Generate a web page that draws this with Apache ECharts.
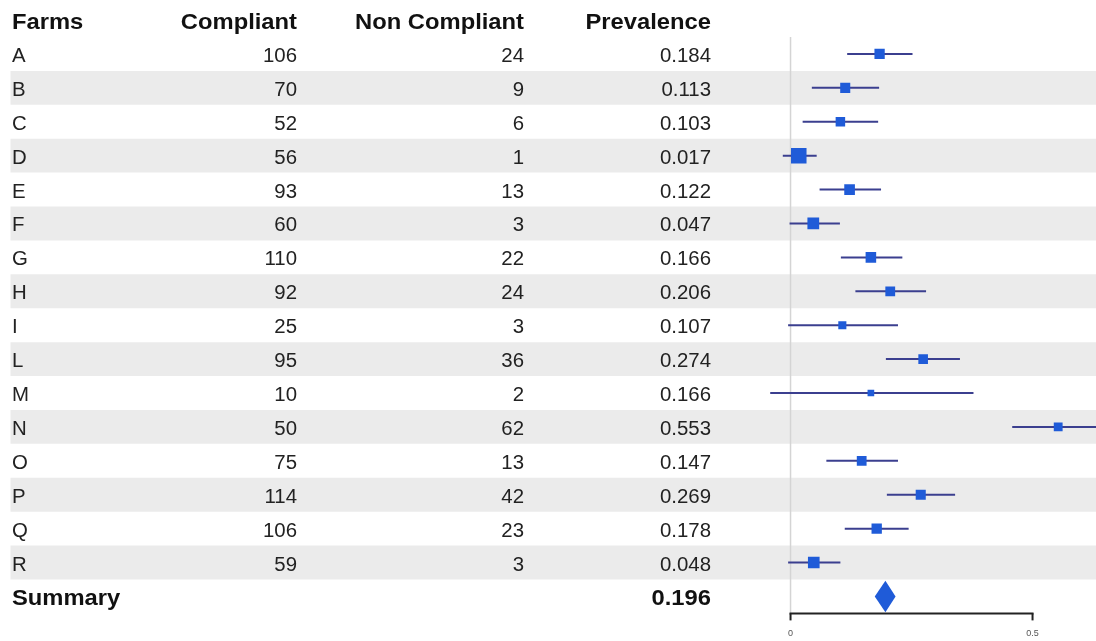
<!DOCTYPE html>
<html>
<head>
<meta charset="utf-8">
<script src="https://cdn.jsdelivr.net/npm/echarts@6/dist/echarts.min.js"></script>
<style>
html,body{margin:0;padding:0;background:#fff;}
#chart{width:1096px;height:641px;}
</style>
</head>
<body>
<div id="chart"></div>
<script>
// ---- data ----
const headers = ['Farms', 'Compliant', 'Non Compliant', 'Prevalence'];
const farms = ['A','B','C','D','E','F','G','H','I','L','M','N','O','P','Q','R'];
const compliant = [106, 70, 52, 56, 93, 60, 110, 92, 25, 95, 10, 50, 75, 114, 106, 59];
const nonCompliant = [24, 9, 6, 1, 13, 3, 22, 24, 3, 36, 2, 62, 13, 42, 23, 3];
const prevalence = [0.184, 0.113, 0.103, 0.017, 0.122, 0.047, 0.166, 0.206, 0.107, 0.274, 0.166, 0.553, 0.147, 0.269, 0.178, 0.048];
const ciLower = [0.117, 0.044, 0.025, -0.016, 0.060, -0.002, 0.104, 0.134, -0.005, 0.197, -0.042, 0.458, 0.074, 0.199, 0.112, -0.005];
const ciUpper = [0.252, 0.183, 0.181, 0.054, 0.187, 0.102, 0.231, 0.280, 0.222, 0.350, 0.378, 0.650, 0.222, 0.340, 0.244, 0.103];
const summaryLabel = 'Summary';
const summaryPrev = 0.196;
const summaryLower = 0.174;
const summaryUpper = 0.217;
const axisTickValues = [0, 0.5];

// ---- layout / style ----
const FONT = '"Liberation Sans", Arial, sans-serif';
const nRows = farms.length;            // 16 study rows
const summaryRow = nRows;              // row index 16
const yMin = -0.5, yMax = nRows + 0.5;
const gridTop = 37, gridBottom = 27.6;
// table column anchors (in table-axis units = px)
const colX = [12, 297, 524, 711];
const colAlign = ['left', 'right', 'right', 'right'];
const bandLeft = 10.5, bandRight = 1096;

const chart = echarts.init(document.getElementById('chart'), null, {renderer: 'canvas'});

function textEl(txt, x, y, align, bold, size, color) {
  return {
    type: 'text',
    x: x, y: y,
    scaleX: bold ? 1.08 : 1.02,
    style: {
      text: String(txt), x: 0, y: 0, align: align, verticalAlign: 'middle',
      fontFamily: FONT, fontSize: size, fontWeight: bold ? 'bold' : 'normal', fill: color
    }
  };
}

// table rows: -1 header, 0..15 farms, 16 summary
const tableRows = [-1];
for (let i = 0; i < nRows; i++) tableRows.push(i);
tableRows.push(summaryRow);

function renderTable(params, api) {
  const r = tableRows[params.dataIndex];
  const yc = api.coord([0, r])[1];
  const children = [];
  if (r >= 0 && r < nRows && r % 2 === 1) {
    const p0 = api.coord([bandLeft, r - 0.5]);
    const p1 = api.coord([bandRight, r + 0.5]);
    children.push({type: 'rect', shape: {x: p0[0], y: p0[1], width: p1[0] - p0[0], height: p1[1] - p0[1]},
      style: {fill: '#ebebeb'}, z2: 0});
  }
  const ty = yc + 2.5;
  if (r === -1) {
    headers.forEach((h, k) => children.push(textEl(h, api.coord([colX[k], r])[0], ty, colAlign[k], true, 22, '#111')));
  } else if (r === summaryRow) {
    children.push(textEl(summaryLabel, api.coord([colX[0], r])[0], ty, 'left', true, 22, '#111'));
    children.push(textEl(summaryPrev.toFixed(3), api.coord([colX[3], r])[0], ty, 'right', true, 22, '#111'));
  } else {
    const vals = [farms[r], compliant[r], nonCompliant[r], prevalence[r].toFixed(3)];
    vals.forEach((v, k) => children.push(textEl(v, api.coord([colX[k], r])[0], ty, colAlign[k], false, 20, '#222')));
  }
  return {type: 'group', children: children};
}

// forest rows
const forestData = prevalence.map((p, i) => [i, p, ciLower[i], ciUpper[i]]);
function markerSize(i) {
  const n = compliant[i] + nonCompliant[i];
  const p = prevalence[i];
  const w = n / (p * (1 - p));
  return 5 + 0.18 * Math.sqrt(w);
}
function renderForest(params, api) {
  const r = api.value(0);
  const c = api.coord([api.value(1), r]);
  const lo = api.coord([api.value(2), r]);
  const hi = api.coord([api.value(3), r]);
  const s = markerSize(params.dataIndex);
  return {
    type: 'group',
    children: [
      {type: 'line', shape: {x1: lo[0], y1: lo[1], x2: hi[0], y2: hi[1]}, style: {stroke: '#3b3f8f', lineWidth: 2}},
      {type: 'rect', shape: {x: c[0] - s / 2, y: c[1] - s / 2, width: s, height: s}, style: {fill: '#1f5bd8'}}
    ]
  };
}
function renderSummary(params, api) {
  const r = api.value(0);
  const c = api.coord([api.value(1), r]);
  const lo = api.coord([api.value(2), r]);
  const hi = api.coord([api.value(3), r]);
  const h = api.size([0, 0.93])[1] / 2;
  return {
    type: 'polygon',
    shape: {points: [[lo[0], c[1]], [c[0], c[1] - h], [hi[0], c[1]], [c[0], c[1] + h]]},
    style: {fill: '#1f5bd8'}
  };
}
function renderRefLine(params, api) {
  const a = api.coord([0, yMin]);
  const b = api.coord([0, yMax]);
  return {type: 'line', shape: {x1: a[0], y1: a[1], x2: b[0], y2: b[1]}, style: {stroke: '#d4d4d4', lineWidth: 1.5}};
}
function renderAxis(params, api) {
  const a = api.coord([axisTickValues[0], yMax]);
  const b = api.coord([axisTickValues[axisTickValues.length - 1], yMax]);
  const children = [{type: 'line', shape: {x1: a[0] - 1, y1: a[1], x2: b[0] + 1, y2: b[1]}, style: {stroke: '#222', lineWidth: 2}}];
  axisTickValues.forEach(v => {
    const p = api.coord([v, yMax]);
    children.push({type: 'line', shape: {x1: p[0], y1: p[1], x2: p[0], y2: p[1] + 7}, style: {stroke: '#222', lineWidth: 2}});
    children.push({type: 'text', style: {text: String(v), x: p[0], y: p[1] + 20, align: 'center', verticalAlign: 'middle',
      fontFamily: FONT, fontSize: 9, fill: '#555'}});
  });
  return {type: 'group', children: children};
}

const option = {
  backgroundColor: '#fff',
  animation: false,
  grid: [
    {left: 0, right: 0, top: gridTop, bottom: gridBottom},
    {left: 761.5, right: 0.54, top: gridTop, bottom: gridBottom}
  ],
  xAxis: [
    {gridIndex: 0, type: 'value', min: 0, max: 1096, show: false},
    {gridIndex: 1, type: 'value', min: -0.06, max: 0.63, show: false}
  ],
  yAxis: [
    {gridIndex: 0, type: 'value', min: yMin, max: yMax, inverse: true, show: false},
    {gridIndex: 1, type: 'value', min: yMin, max: yMax, inverse: true, show: false}
  ],
  series: [
    {type: 'custom', xAxisIndex: 0, yAxisIndex: 0, clip: false, z: 1,
      data: tableRows.map(r => [0, r]), renderItem: renderTable, silent: true},
    {type: 'custom', xAxisIndex: 1, yAxisIndex: 1, clip: false, z: 2,
      data: [[0, 0]], renderItem: renderRefLine, silent: true},
    {type: 'custom', xAxisIndex: 1, yAxisIndex: 1, clip: true, z: 3,
      data: forestData, encode: {x: [1, 2, 3], y: 0}, renderItem: renderForest, silent: true},
    {type: 'custom', xAxisIndex: 1, yAxisIndex: 1, clip: false, z: 3,
      data: [[summaryRow, summaryPrev, summaryLower, summaryUpper]], encode: {x: [1, 2, 3], y: 0}, renderItem: renderSummary, silent: true},
    {type: 'custom', xAxisIndex: 1, yAxisIndex: 1, clip: false, z: 4,
      data: [[0, yMax]], renderItem: renderAxis, silent: true}
  ]
};
chart.setOption(option);
</script>
</body>
</html>
